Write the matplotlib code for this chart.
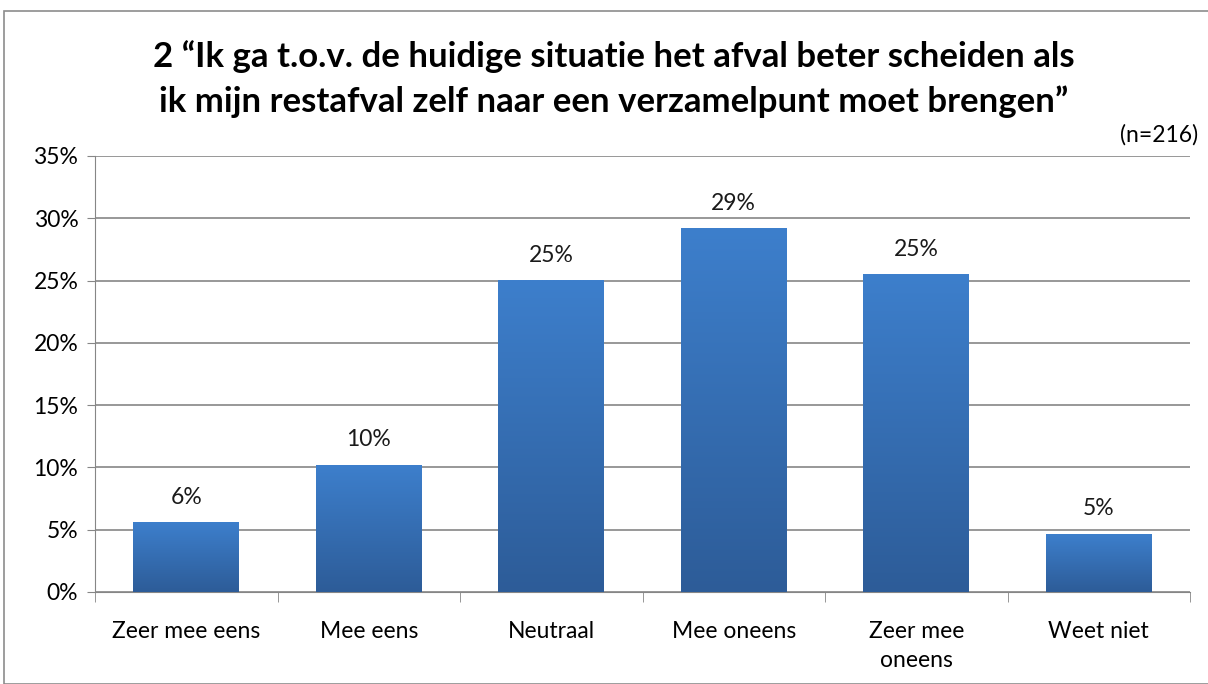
import numpy as np
import matplotlib.pyplot as plt
from matplotlib.patches import Rectangle
from matplotlib.colors import LinearSegmentedColormap

plt.rcParams['font.family'] = ['Lato', 'DejaVu Sans']

categories = ["Zeer mee eens", "Mee eens", "Neutraal", "Mee oneens", "Zeer mee\noneens", "Weet niet"]
values = [5.56, 10.19, 25.0, 29.17, 25.46, 4.63]
labels = ["6%", "10%", "25%", "29%", "25%", "5%"]
yticks = [0, 5, 10, 15, 20, 25, 30, 35]

fig = plt.figure(figsize=(12.08, 6.84), dpi=100)
ax = fig.add_axes([95 / 1208, 1 - 592 / 684, (1190 - 95) / 1208, (592 - 156) / 684])

# outer frame
fig.patches.append(Rectangle((4 / 1208, 0), 1, 1 - 11 / 684, transform=fig.transFigure,
                             fill=False, edgecolor="#8c8c8c", linewidth=1.2))

x = np.arange(len(categories))
bars = ax.bar(x, values, width=0.58, color="none", zorder=3)

cmap = LinearSegmentedColormap.from_list("blu", ["#2d5c98", "#3d7fcc"])
grad = np.linspace(0, 1, 256).reshape(-1, 1)
for b in bars:
    x0, w, h = b.get_x(), b.get_width(), b.get_height()
    ax.imshow(grad, cmap=cmap, origin="lower", aspect="auto",
              extent=[x0, x0 + w, 0, h], zorder=3)

for i, (v, lab) in enumerate(zip(values, labels)):
    ax.text(i, v + 1.2, lab, ha="center", va="bottom", fontsize=16.5, color="#1a1a1a")

ax.set_xlim(-0.5, len(categories) - 0.5)
ax.set_ylim(0, 35)
ax.set_yticks(yticks)
ax.set_yticklabels([f"{t}%" for t in yticks], fontsize=16.5)
ax.set_xticks(x)
ax.set_xticklabels(categories, fontsize=16.5, linespacing=1.45)
ax.set_xticks(np.arange(-0.5, len(categories)), minor=True)
ax.tick_params(axis="x", which="major", length=0, pad=21)
ax.tick_params(axis="x", which="minor", length=7, color="#868686", direction="out")
ax.tick_params(axis="y", length=6, color="#868686", pad=6)
ax.grid(axis="y", color="#868686", linewidth=1.2, zorder=0)
for s in ["top", "right"]:
    ax.spines[s].set_visible(False)
for s in ["left", "bottom"]:
    ax.spines[s].set_color("#868686")
ax.set_axisbelow(True)

fig.text(614 / 1208, 1 - 79 / 684,
         "2 \u201cIk ga t.o.v. de huidige situatie het afval beter scheiden als\n"
         "ik mijn restafval zelf naar een verzamelpunt moet brengen\u201d",
         ha="center", va="center", fontsize=25, fontweight="bold", linespacing=1.48)
fig.text(1198 / 1208, 1 - 135 / 684, "(n=216)", ha="right", va="center", fontsize=16.5)

fig.savefig("out.png", dpi=100)
